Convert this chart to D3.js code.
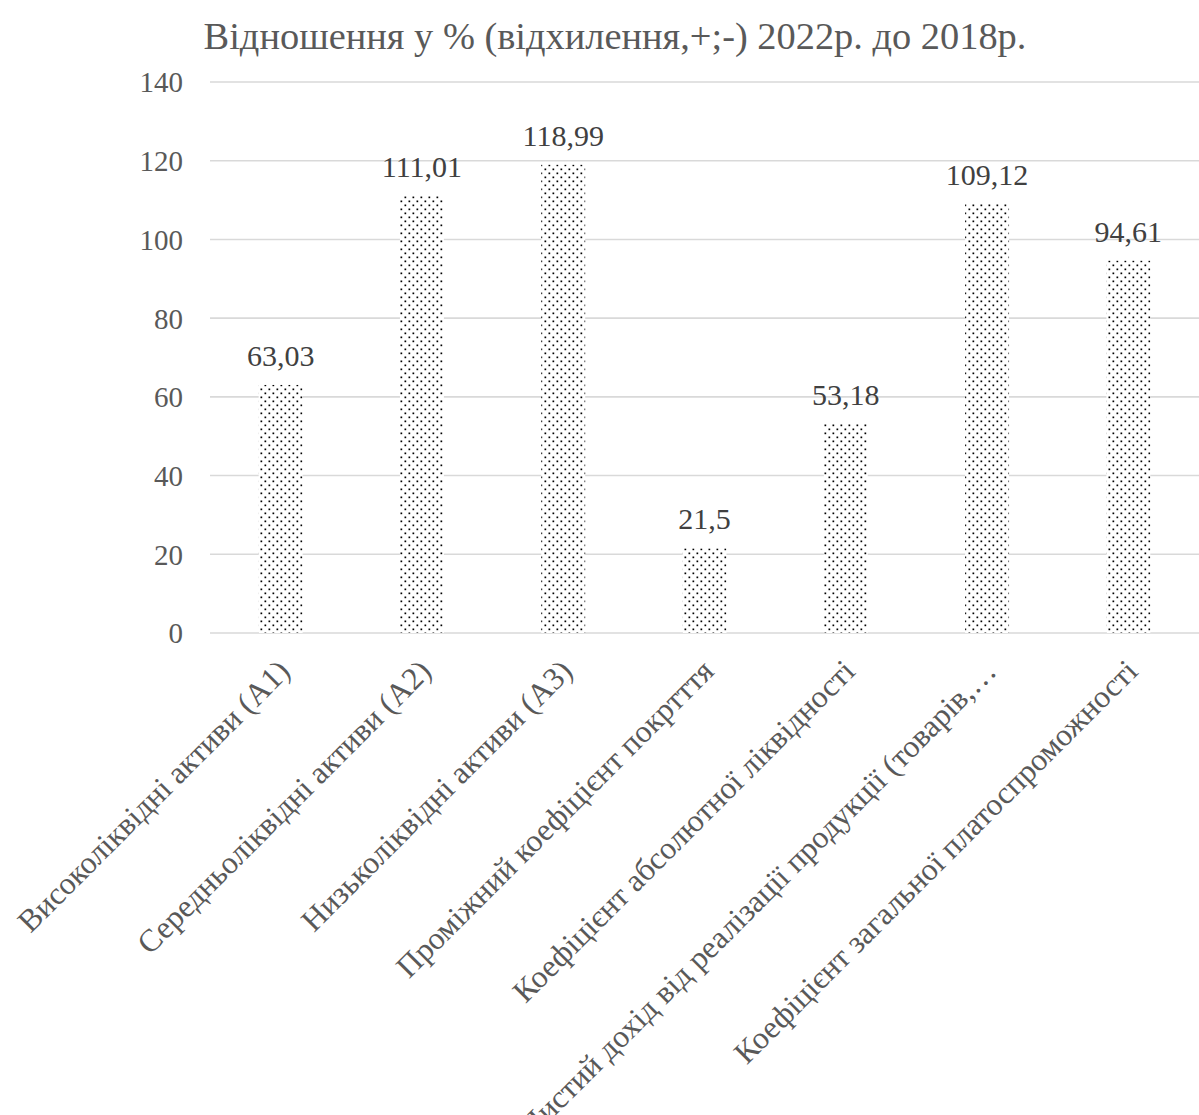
<!DOCTYPE html>
<html>
<head>
<meta charset="utf-8">
<script src="https://cdn.jsdelivr.net/npm/d3@7"></script>
</head>
<body style="margin:0">
<div id="chart"></div>
<script>
const title = "Відношення у % (відхилення,+;-) 2022р. до 2018р.";
const categories = [
  "Високоліквідні активи (А1)",
  "Середньоліквідні активи (А2)",
  "Низьколіквідні активи (А3)",
  "Проміжний коефіцієнт покртття",
  "Коефіцієнт абсолютної ліквідності",
  "Чистий дохід від реалізації продукції (товарів,…",
  "Коефіцієнт загальної платоспроможності"
];
const values = [63.03, 111.01, 118.99, 21.5, 53.18, 109.12, 94.61];
const valueLabels = ["63,03", "111,01", "118,99", "21,5", "53,18", "109,12", "94,61"];
const yTicks = [0, 20, 40, 60, 80, 100, 120, 140];

(function () {
const W = 1199, H = 1115;
const mLeft = 210, mRight = 1199, mTop = 82, mBottom = 633;
const FF = '"Liberation Serif"';
const textColor = "#595959";

const svg = d3.select("#chart").append("svg").attr("width", W).attr("height", H);

const defs = svg.append("defs");
const pat = defs.append("pattern").attr("id", "dots")
  .attr("patternUnits", "userSpaceOnUse").attr("width", 8).attr("height", 8);
pat.append("rect").attr("width", 8).attr("height", 8).attr("fill", "#fff");
pat.append("rect").attr("x", 0.5).attr("y", 0.5).attr("width", 1.7).attr("height", 1.7).attr("fill", "#000");
pat.append("rect").attr("x", 4.5).attr("y", 4.5).attr("width", 1.7).attr("height", 1.7).attr("fill", "#000");

const x = d3.scaleBand().domain(categories).range([mLeft, mRight])
  .paddingInner(0.689).paddingOuter(0.3445);
const y = d3.scaleLinear().domain([0, 140]).range([mBottom, mTop]);

svg.append("g").selectAll("line").data(yTicks).join("line")
  .attr("x1", mLeft).attr("x2", mRight)
  .attr("y1", d => y(d)).attr("y2", d => y(d))
  .attr("stroke", "#d9d9d9").attr("stroke-width", 1.6);

const yAxis = d3.axisLeft(y).tickValues(yTicks).tickSize(0).tickPadding(0);
const yg = svg.append("g").attr("transform", `translate(${mLeft - 27},0)`).call(yAxis);
yg.select(".domain").remove();
yg.attr("font-family", null).attr("font-size", null);
yg.selectAll("text").style("font-family", FF).attr("font-size", 29)
  .attr("fill", textColor).attr("dy", "0.34em");

svg.append("g").selectAll("rect").data(values).join("rect")
  .attr("x", (d, i) => x(categories[i]))
  .attr("y", d => y(d))
  .attr("width", x.bandwidth())
  .attr("height", d => y(0) - y(d))
  .attr("fill", "url(#dots)");

svg.append("g").selectAll("text").data(values).join("text")
  .attr("x", (d, i) => x(categories[i]) + x.bandwidth() / 2)
  .attr("y", d => y(d) - 19)
  .attr("text-anchor", "middle")
  .style("font-family", FF).attr("font-size", 30)
  .attr("fill", "#404040")
  .text((d, i) => valueLabels[i]);

const xAxis = d3.axisBottom(x).tickSize(0).tickPadding(0);
const xg = svg.append("g").attr("transform", `translate(0,${mBottom})`).call(xAxis);
xg.select(".domain").remove();
xg.attr("font-family", null).attr("font-size", null);
const xt = xg.selectAll("text")
  .style("font-family", FF).attr("font-size", 30).attr("fill", textColor)
  .attr("text-anchor", "end")
  .attr("dy", null).attr("y", 0).attr("x", 0);
const len0 = xt.node().getComputedTextLength();
const catSize = Math.round(Math.max(26, Math.min(36, 30 * 369 / len0)) * 10) / 10;
xt.attr("font-size", catSize)
  .attr("transform", "translate(11,40) rotate(-45)");

const tt = svg.append("text").attr("x", 615).attr("y", 49)
  .attr("text-anchor", "middle")
  .style("font-family", FF).attr("font-size", 30)
  .attr("fill", textColor).text(title);
const tl = tt.node().getComputedTextLength();
tt.attr("font-size", Math.round(Math.max(26, Math.min(40, 30 * 822 / tl)) * 10) / 10);
})();
</script>
</body>
</html>
